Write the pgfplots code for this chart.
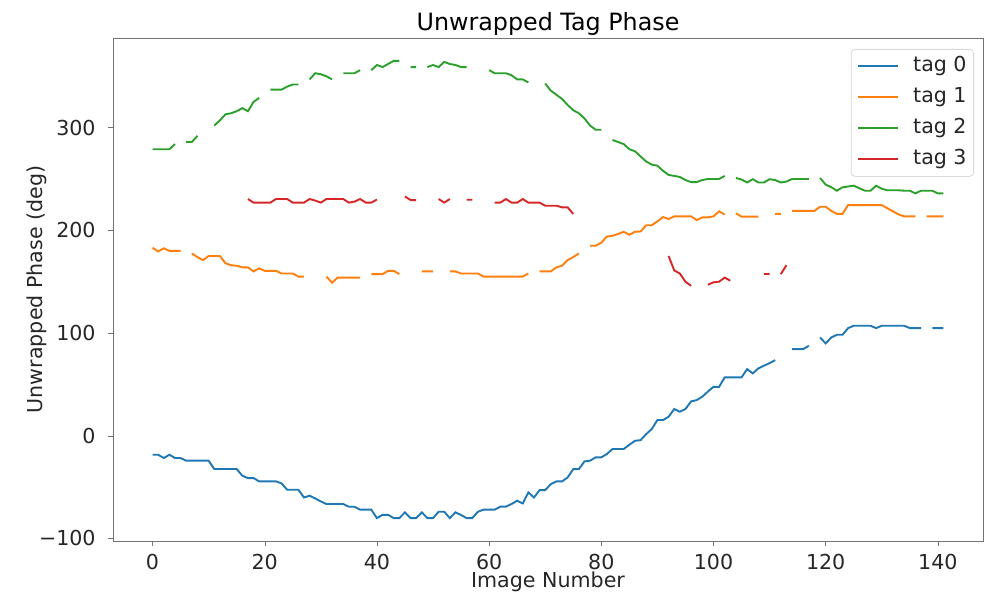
\documentclass[border=0pt]{standalone}
\usepackage{fontspec}
\setmainfont{DejaVu Sans}
\usepackage{pgfplots}
\pgfplotsset{compat=1.18}
\usepackage{pgfplotstable}

\definecolor{c0}{HTML}{1F77B4}
\definecolor{c1}{HTML}{FF7F0E}
\definecolor{c2}{HTML}{2CA02C}
\definecolor{c3}{HTML}{D62728}

% image number, tag 0..3 (nan = no reading)
\pgfplotstableread{
x t0 t1 t2 t3
0 -18.5 183 279 nan
1 -18.5 179.5 279 nan
2 -21.7 182.5 279 nan
3 -18.5 180 279 nan
4 -21.7 180 284 nan
5 -21.7 180 nan nan
6 -24.3 nan 286 nan
7 -24.3 177.5 286 nan
8 -24.3 174 292 nan
9 -24.3 171 nan nan
10 -24.3 175 nan nan
11 -32.4 175 302 nan
12 -32.4 175 307 nan
13 -32.4 168 313 nan
14 -32.4 166 314 nan
15 -32.4 165.5 316 nan
16 -38.9 164 319 nan
17 -41.2 164 316 230.5
18 -41.2 160 325 227
19 -44.4 163 329 227
20 -44.4 160.6 nan 227
21 -44.4 160.6 337 227
22 -44.4 160.6 337 230.5
23 -46.4 158 337 230.5
24 -52.6 158 340 230.5
25 -52.6 158 342 227
26 -52.6 155 342 227
27 -60.1 155 nan 227
28 -58.4 nan 347 230.5
29 -61 nan 353 229
30 -64 nan 352 227
31 -66.5 155 350 230.5
32 -66.5 149 347 230.5
33 -66.5 154 nan 230.5
34 -66.5 154 353 230.5
35 -69.1 154 353 227
36 -69.1 154 353 228
37 -72 154 356 230.5
38 -72 nan nan 227
39 -72 157.4 356 227
40 -80.2 157.4 361 230
41 -77 157.4 359 nan
42 -77 160.6 362 nan
43 -80.2 160.6 365 nan
44 -80.2 157.4 365 nan
45 -74.6 nan nan 233
46 -80.2 nan 359 229.5
47 -80.2 nan 359 229.5
48 -74.6 160 nan nan
49 -80.2 160 359 nan
50 -80.2 160 361 nan
51 -74 nan 359 230.5
52 -74 nan 364 227
53 -80.2 160 362 230.5
54 -74.6 160 361 nan
55 -77.2 158 359 nan
56 -80.2 158 359 229.8
57 -80.2 158 nan 229.8
58 -74 158 nan nan
59 -72 155 nan nan
60 -72 155 356 nan
61 -72 155 353 227
62 -69 155 353 227
63 -69 155 353 230.5
64 -66.5 155 351 227
65 -63.3 155 347 227
66 -65.9 155 347 230.5
67 -55.2 158 344 227
68 -60.1 nan nan 227
69 -53 160 nan 227
70 -53 160 343 224
71 -47.1 160 336 224
72 -44.5 164 332 224
73 -44.5 165.5 328 222.4
74 -40.6 171 322 222.4
75 -32.5 174 317 216
76 -32.5 177.5 314 nan
77 -25 nan 309 nan
78 -24.3 185 302 nan
79 -21 185 298 nan
80 -21 188 298 nan
81 -17.8 194 nan nan
82 -12.9 194.7 288 nan
83 -12.9 196.5 286 nan
84 -12.9 198.6 284 nan
85 -8.8 195.7 279 nan
86 -4.9 198.6 277 nan
87 -4.3 198.9 272 nan
88 1.6 205 267 nan
89 6.5 205 264 nan
90 15.3 208.7 263 nan
91 15.3 213 258 nan
92 18.5 211 254 175
93 26 213.6 253 161
94 23.4 213.6 252 158
95 26 213.6 249 150
96 33.4 213.6 247 146
97 34.7 210 247 nan
98 38 212.6 249 nan
99 43 212.6 250 147
100 47.6 213.6 250 149.4
101 47.6 218.5 250 150
102 56.8 215.3 253 154
103 56.8 nan nan 151
104 56.8 216.6 251 nan
105 56.8 213.3 249.5 nan
106 64.9 213.3 246.6 nan
107 60.7 213.3 249.8 nan
108 65.6 213.3 246.6 nan
109 68.2 nan 246.6 157.5
110 70.7 nan 249.8 157.5
111 73.6 216 249 nan
112 nan 216 246.6 157.4
113 nan nan 247.5 166
114 84.4 219 250 nan
115 84.4 219 250 nan
116 84.4 219 250 nan
117 87.6 219 250 nan
118 nan 219 nan nan
119 95.7 223 251 nan
120 89.9 223 244.5 nan
121 95.7 219 242 nan
122 98.3 216 238.6 nan
123 98.3 216 241.9 nan
124 104.8 224.6 242.7 nan
125 107.1 224.6 243.5 nan
126 107.1 224.6 241 nan
127 107.1 224.6 238.6 nan
128 107.1 224.6 238.6 nan
129 104.8 224.6 243.5 nan
130 107.1 224.6 240.5 nan
131 107.1 221.5 239 nan
132 107.1 218.5 239 nan
133 107.1 215.5 239 nan
134 107.1 213.6 238.6 nan
135 104.8 213.6 238.6 nan
136 104.8 213.6 236 nan
137 104.8 nan 238.6 nan
138 nan 213.6 238.6 nan
139 104.8 213.6 238.6 nan
140 104.8 213.6 236 nan
141 104.8 213.6 236 nan
}\phase

\begin{document}
\begin{tikzpicture}
\begin{axis}[
  scale only axis,
  width=435pt, height=251.5pt,
  xmin=-7.05, xmax=148.05,
  ymin=-102.5, ymax=387.3,
  unbounded coords=jump,
  font=\fontsize{10.3}{12}\selectfont,
  axis line style={black!55},
  tick style={black!55},
  tick align=outside,
  xtick pos=bottom, ytick pos=left,
  major tick length=2.5pt,
  xtick={0,20,40,60,80,100,120,140},
  xticklabels={0,20,40,60,80,100,120,140},
  ytick={-100,0,100,200,300},
  yticklabels={−100,0,100,200,300},
  xticklabel style={anchor=north, inner sep=0pt, yshift=-4pt, text=black!85},
  yticklabel style={anchor=east, inner sep=0pt, xshift=-6pt, text=black!85},
  title={Unwrapped Tag Phase},
  every axis title shift=0pt,
  title style={at={(axis description cs:0.5,1.0147)}, anchor=base, inner sep=0pt,
    font=\fontsize{11.9}{14}\selectfont},
  xlabel={Image Number},
  xlabel style={at={(axis description cs:0.5,-0.0934)}, anchor=base, inner sep=0pt, text=black!85},
  ylabel={Unwrapped Phase (deg)},
  ylabel style={at={(axis description cs:-0.0816,0.5)}, rotate=0, anchor=base, inner sep=0pt, text=black!85},
  legend cell align=left,
  legend style={at={(1,1)}, anchor=north east, xshift=-4.5pt, yshift=-5.5pt,
    draw=black!15, rounded corners=2pt, inner sep=3.5pt,
    row sep=5.5pt,
    nodes={inner sep=0pt, text height=7.7pt, text depth=2.3pt, text=black!85},
    /tikz/every odd column/.style={column sep=7.5pt}},
]
\addplot[c0, line width=0.95pt, legend image code/.code={\fill[fill=c0, draw=none, sharp corners] (0pt,-0.48pt) rectangle (20pt,0.48pt);}]
  table[x=x, y=t0] {\phase};
\addplot[c1, line width=0.95pt, legend image code/.code={\fill[fill=c1, draw=none, sharp corners] (0pt,-0.48pt) rectangle (20pt,0.48pt);}]
  table[x=x, y=t1] {\phase};
\addplot[c2, line width=0.95pt, legend image code/.code={\fill[fill=c2, draw=none, sharp corners] (0pt,-0.48pt) rectangle (20pt,0.48pt);}]
  table[x=x, y=t2] {\phase};
\addplot[c3, line width=0.95pt, legend image code/.code={\fill[fill=c3, draw=none, sharp corners] (0pt,-0.48pt) rectangle (20pt,0.48pt);}]
  table[x=x, y=t3] {\phase};
\legend{tag 0, tag 1, tag 2, tag 3}
\coordinate (sw) at (rel axis cs:0,0);
\coordinate (ne) at (rel axis cs:1,1);
\end{axis}
\path ([shift={(-56.5pt,-27pt)}]sw) rectangle ([shift={(5.5pt,19pt)}]ne);
\end{tikzpicture}
\end{document}
